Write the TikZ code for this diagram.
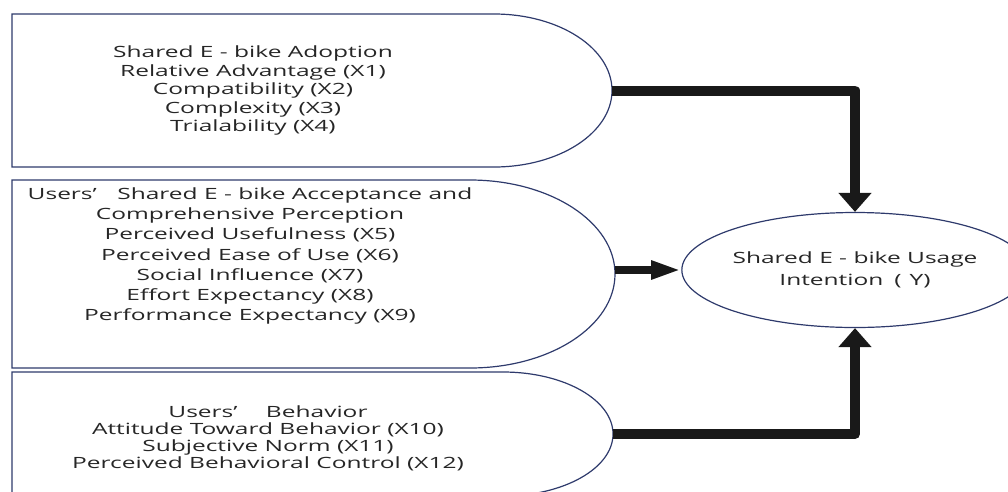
\documentclass[tikz,border=0pt]{standalone}
\usepackage{fontspec}
\setmainfont{Open Sans}
\usepackage{graphicx}
\usepackage{tikz}
\usetikzlibrary{positioning, calc, arrows.meta, shapes.geometric}
\definecolor{rimblue}{RGB}{46,58,108}
\definecolor{inkgrey}{RGB}{38,38,38}
\newcommand{\wideblock}[1]{\scalebox{1.58}[1]{\begin{tabular}{@{}c@{}}#1\end{tabular}}}

\begin{document}
\begin{tikzpicture}[x=1pt, y=-1pt]
\tikzstyle{rim}=[draw=rimblue, line width=1.2pt]
\tikzstyle{factor}=[text=inkgrey, inner sep=0pt]
\tikzstyle{outcome}=[rim, ellipse, minimum width=306pt, minimum height=115pt, inner sep=0pt,
text=inkgrey, font=\fontsize{15.5}{22}\selectfont]
\tikzstyle{elbow}=[line width=10pt, draw=black!90, line join=round, -{Triangle[width=32pt, length=19pt]}]
\tikzstyle{straight}=[line width=8pt, draw=black!90, -{Triangle[width=17pt, length=30pt]}]

\useasboundingbox (0,0) rectangle (1008,491);

% source boxes
\draw[rim] (12,14) -- (494,14)
  arc[start angle=90, end angle=0, x radius=118pt, y radius=76.5pt] coordinate (adoptE)
  arc[start angle=0, end angle=-90, x radius=118pt, y radius=76.5pt] -- (12,167) -- cycle;
\draw[rim] (12,180) -- (470,180)
  arc[start angle=90, end angle=0, x radius=145pt, y radius=94pt] coordinate (accE)
  arc[start angle=0, end angle=-90, x radius=145pt, y radius=94pt] -- (12,368) -- cycle;
\draw[rim] (12,372) -- (503,372)
  arc[start angle=90, end angle=0, x radius=110pt, y radius=62pt] coordinate (behavE)
  arc[start angle=0, end angle=-90, x radius=110pt, y radius=62pt] -- (12,496) -- cycle;

% texts
\node (adopt) [factor, font=\fontsize{15.5}{18.5}\selectfont] at (253,91)
  {\wideblock{Shared E - bike Adoption\\ Relative Advantage (X1)\\ Compatibility (X2)\\
   Complexity (X3)\\ Trialability (X4)}};
\node (accept) [factor, font=\fontsize{15.5}{20.3}\selectfont] at (250,256)
  {\wideblock{Users’\hspace{13pt}Shared E - bike Acceptance and\\ Comprehensive Perception\\
   Perceived Usefulness (X5)\\ Perceived Ease of Use (X6)\\ Social Influence (X7)\\
   Effort Expectancy (X8)\\ Performance Expectancy (X9)}};
\node (behav) [factor, font=\fontsize{15.5}{17}\selectfont] at (268,440)
  {\wideblock{Users’\hspace{18pt}Behavior\\ Attitude Toward Behavior (X10)\\
   Subjective Norm (X11)\\ Perceived Behavioral Control (X12)}};

% outcome
\node (usage) [outcome] at (855,270)
  {\raisebox{-2pt}{\wideblock{Shared E - bike Usage\\ Intention\hspace{7pt}(\hspace{5pt}Y)}}};

% connections
\draw[elbow] (adoptE) -| (usage.north);
\draw[straight] (accE |- usage.west) -- (usage.west);
\draw[elbow] (behavE) -| (usage.south);

\end{tikzpicture}
\end{document}
